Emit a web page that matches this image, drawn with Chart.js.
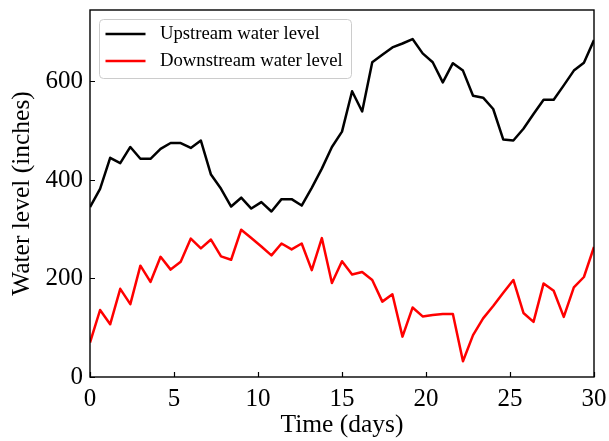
<!DOCTYPE html>
<html>
<head>
<meta charset="utf-8">
<script src="https://cdn.jsdelivr.net/npm/chart.js@4.4.0/dist/chart.umd.min.js"></script>
<style>
  html, body { margin: 0; padding: 0; background: #fff; }
  #wrap { width: 609px; height: 441px; }
</style>
</head>
<body>
<div id="wrap"><canvas id="chart" width="609" height="441"></canvas></div>
<script>
const days = [0, 0.6, 1.2, 1.8, 2.4, 3, 3.6, 4.2, 4.8, 5.4, 6, 6.6, 7.2, 7.8, 8.4, 9, 9.6,
  10.2, 10.8, 11.4, 12, 12.6, 13.2, 13.8, 14.4, 15, 15.6, 16.2, 16.8, 17.4, 18, 18.6, 19.2,
  19.8, 20.4, 21, 21.6, 22.2, 22.8, 23.4, 24, 24.6, 25.2, 25.8, 26.4, 27, 27.6, 28.2, 28.8,
  29.4, 30];
const upstream = [345, 382, 445, 434, 467, 443, 443, 463, 475, 475, 465, 480, 411, 382, 346,
  364, 342, 355, 336, 361, 361, 348, 384, 423, 467, 498, 580, 539, 639, 654, 669, 677, 686,
  657, 639, 598, 637, 622, 571, 567, 544, 482, 480, 504, 534, 563, 563, 592, 622, 638, 684];
const downstream = [70, 136, 107, 179, 148, 226, 193, 244, 218, 234, 281, 261, 279, 245, 238,
  299, 282, 265, 247, 271, 259, 271, 217, 282, 191, 235, 208, 213, 197, 153, 168, 82, 141,
  123, 126, 128, 128, 32, 85, 119, 144, 171, 197, 130, 112, 190, 175, 122, 182, 203, 264];
const xTicks = [0, 5, 10, 15, 20, 25, 30];
const yTicks = [0, 200, 400, 600];

const serif = '"Liberation Serif", "Times New Roman", serif';

function toPoints(values) {
  return values.map((v, i) => ({ x: days[i], y: v }));
}

// matplotlib style frame, inward ticks and legend box
const framePlugin = {
  id: 'frame',
  afterDraw(chart) {
    const { ctx, chartArea: a, scales } = chart;
    ctx.save();
    ctx.strokeStyle = '#000';
    ctx.lineWidth = 1.4;
    ctx.strokeRect(a.left, a.top, a.right - a.left, a.bottom - a.top);

    ctx.beginPath();
    for (const v of xTicks) {
      const px = Math.round(scales.x.getPixelForValue(v)) + 0.5;
      ctx.moveTo(px, a.bottom);
      ctx.lineTo(px, a.bottom - 5);
    }
    for (const v of yTicks) {
      const py = Math.round(scales.y.getPixelForValue(v)) + 0.5;
      ctx.moveTo(a.left, py);
      ctx.lineTo(a.left + 5, py);
    }
    ctx.lineWidth = 1.2;
    ctx.stroke();

    // legend
    const bx = a.left + 9.5, by = a.top + 9.5, bw = 252, bh = 59;
    ctx.beginPath();
    ctx.roundRect(bx, by, bw, bh, 4);
    ctx.fillStyle = 'rgba(255,255,255,0.85)';
    ctx.fill();
    ctx.strokeStyle = '#cccccc';
    ctx.lineWidth = 1;
    ctx.stroke();

    ctx.font = '18.7px ' + serif;
    ctx.textBaseline = 'middle';
    ctx.textAlign = 'left';
    chart.data.datasets.forEach((ds, i) => {
      const y = by + 14.5 + i * 27;
      ctx.beginPath();
      ctx.moveTo(bx + 6, y);
      ctx.lineTo(bx + 46, y);
      ctx.strokeStyle = ds.borderColor;
      ctx.lineWidth = 2.5;
      ctx.stroke();
      ctx.fillStyle = '#000';
      ctx.fillText(ds.label, bx + 60.5, y + 0.5);
    });
    ctx.restore();
  }
};

new Chart(document.getElementById('chart'), {
  type: 'line',
  data: {
    datasets: [
      { label: 'Upstream water level', data: toPoints(upstream), borderColor: '#000000' },
      { label: 'Downstream water level', data: toPoints(downstream), borderColor: '#ff0000' }
    ]
  },
  options: {
    responsive: false,
    animation: false,
    layout: { padding: { top: 10, right: 15, left: 0, bottom: 0 } },
    elements: {
      line: { borderWidth: 2.5, tension: 0, fill: false, borderJoinStyle: 'round' },
      point: { radius: 0 }
    },
    plugins: {
      legend: { display: false },
      tooltip: { enabled: false }
    },
    scales: {
      x: {
        type: 'linear',
        min: 0,
        max: 30,
        afterFit(s) { s.height = 64; s.paddingLeft = 0; s.paddingRight = 0; },
        afterBuildTicks(s) { s.ticks = xTicks.map(v => ({ value: v })); },
        grid: { display: false, drawTicks: false },
        border: { display: false },
        ticks: { color: '#000', padding: 7, maxRotation: 0, font: { family: serif, size: 25 } },
        title: {
          display: true, text: 'Time (days)', color: '#000',
          font: { family: serif, size: 25.5 }, padding: { top: 0, bottom: 0 }
        }
      },
      y: {
        min: 0,
        max: 745,
        afterFit(s) { s.width = 90; s.paddingTop = 0; s.paddingBottom = 0; },
        afterBuildTicks(s) { s.ticks = yTicks.map(v => ({ value: v })); },
        grid: { display: false, drawTicks: false },
        border: { display: false },
        ticks: { color: '#000', padding: 7, font: { family: serif, size: 25 } },
        title: {
          display: true, text: 'Water level (inches)', color: '#000',
          font: { family: serif, size: 25.5 }, padding: { top: 7, bottom: 0 }
        }
      }
    }
  },
  plugins: [framePlugin]
});
</script>
</body>
</html>
